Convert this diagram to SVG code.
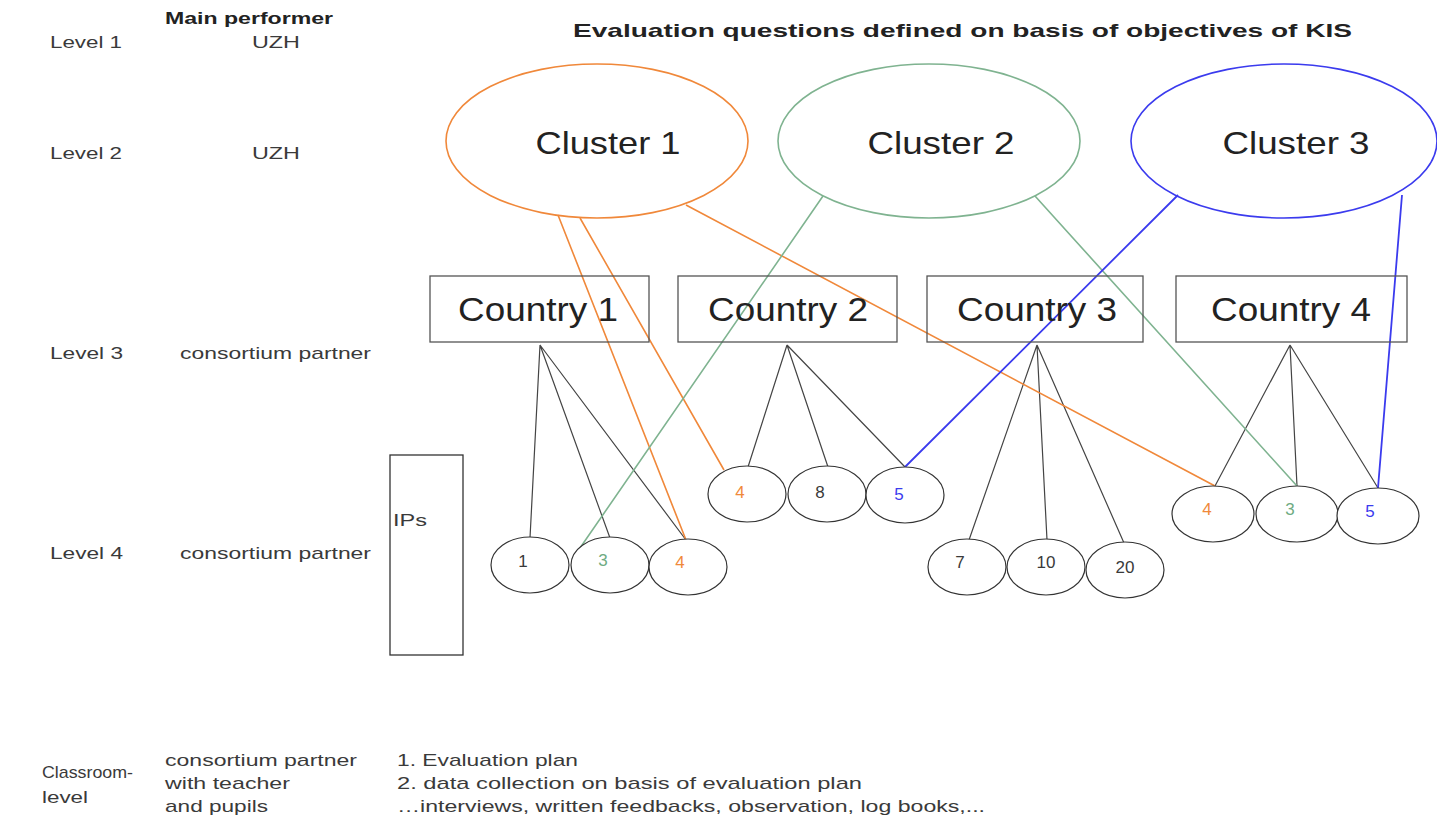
<svg xmlns="http://www.w3.org/2000/svg" width="1437" height="820" viewBox="0 0 1437 820">
<style>
text{font-family:"Liberation Sans",Arial,sans-serif;fill:#3a3a3a}
.lbl{font-size:17px}
.b{font-weight:bold;fill:#222}
.num{font-size:17px;text-anchor:middle}
.box{fill:#fff;stroke:#555;stroke-width:1.3}
.ip{fill:#fff;stroke:#333;stroke-width:1.3}
.cbig{font-size:34px;fill:#222;text-anchor:middle}
.cl{font-size:32px;fill:#222;text-anchor:middle}
.ell{fill:none;stroke-width:1.6}
.circ{fill:#fff;stroke:#333;stroke-width:1.2}
.k{stroke:#444;stroke-width:1.2;fill:none}
.o{stroke:#f0883a;stroke-width:1.6;fill:none}
.g{stroke:#7fb390;stroke-width:1.6;fill:none}
.bl{stroke:#3b3bee;stroke-width:1.8;fill:none}
.to{fill:#f0883a}.tg{fill:#6fab82}.tb{fill:#3b3bee}
</style>

<g id="labels">
<text class="lbl b" x="165" y="24" textLength="168" lengthAdjust="spacingAndGlyphs">Main performer</text>
<text class="lbl" x="50" y="48" textLength="72" lengthAdjust="spacingAndGlyphs">Level 1</text>
<text class="lbl" x="252" y="48" textLength="48" lengthAdjust="spacingAndGlyphs">UZH</text>
<text class="lbl" x="50" y="159" textLength="72" lengthAdjust="spacingAndGlyphs">Level 2</text>
<text class="lbl" x="252" y="159" textLength="48" lengthAdjust="spacingAndGlyphs">UZH</text>
<text class="lbl" x="50" y="359" textLength="73" lengthAdjust="spacingAndGlyphs">Level 3</text>
<text class="lbl" x="180" y="359" textLength="191" lengthAdjust="spacingAndGlyphs">consortium partner</text>
<text class="lbl" x="50" y="559" textLength="73" lengthAdjust="spacingAndGlyphs">Level 4</text>
<text class="lbl" x="180" y="559" textLength="191" lengthAdjust="spacingAndGlyphs">consortium partner</text>
<text class="lbl" x="42" y="778" textLength="91" lengthAdjust="spacingAndGlyphs">Classroom-</text>
<text class="lbl" x="42" y="803" textLength="46" lengthAdjust="spacingAndGlyphs">level</text>
<text class="lbl" x="165" y="766" textLength="192" lengthAdjust="spacingAndGlyphs">consortium partner</text>
<text class="lbl" x="165" y="789" textLength="125" lengthAdjust="spacingAndGlyphs">with teacher</text>
<text class="lbl" x="165" y="812" textLength="103" lengthAdjust="spacingAndGlyphs">and pupils</text>
<text class="lbl" x="397" y="766" textLength="181" lengthAdjust="spacingAndGlyphs">1. Evaluation plan</text>
<text class="lbl" x="397" y="789" textLength="465" lengthAdjust="spacingAndGlyphs">2. data collection on basis of evaluation plan</text>
<text class="lbl" x="397" y="812" textLength="588" lengthAdjust="spacingAndGlyphs">…interviews, written feedbacks, observation, log books,...</text>
<text class="b" x="573" y="37" font-size="19" textLength="779" lengthAdjust="spacingAndGlyphs">Evaluation questions defined on basis of objectives of KIS</text>
</g>

<g id="ips">
<rect class="ip" x="390" y="455" width="73" height="200"/>
<text class="lbl" x="393" y="526" textLength="34" lengthAdjust="spacingAndGlyphs">IPs</text>
</g>

<g id="cluster1">
<ellipse class="ell" cx="597" cy="141" rx="151" ry="77" stroke="#f0883a"/>
<text class="cl" x="608" y="154" textLength="145" lengthAdjust="spacingAndGlyphs">Cluster 1</text>
</g>
<g id="cluster2">
<ellipse class="ell" cx="929" cy="141" rx="151" ry="77" stroke="#7fb390"/>
<text class="cl" x="941" y="154" textLength="147" lengthAdjust="spacingAndGlyphs">Cluster 2</text>
</g>
<g id="cluster3">
<ellipse class="ell" cx="1284" cy="141" rx="153" ry="77" stroke="#3b3bee"/>
<text class="cl" x="1296" y="154" textLength="147" lengthAdjust="spacingAndGlyphs">Cluster 3</text>
</g>

<g id="connectors">
<path class="k" d="M540 345L530 538M540 345L610 538M540 345L686 540"/>
<path class="k" d="M787 345L748 467M787 345L828 467M787 345L905 467"/>
<path class="k" d="M1037 345L969 540M1037 345L1047 540M1037 345L1124 543"/>
<path class="k" d="M1290 345L1215 486M1290 345L1297 486M1290 345L1378 488"/>
<path class="o" d="M558 215L686 540M580 218L724 470M686 205L1215 486"/>
<path class="g" d="M823 196L580 548M1035 196L1297 486"/>
<path class="bl" d="M1178 195L905 467M1402 195L1378 488"/>
</g>

<g id="country1"><rect class="box" x="430" y="276" width="219" height="66" fill-opacity="0"/><text class="cbig" x="538" y="321" textLength="160" lengthAdjust="spacingAndGlyphs">Country 1</text></g>
<g id="country2"><rect class="box" x="678" y="276" width="219" height="66" fill-opacity="0"/><text class="cbig" x="788" y="321" textLength="160" lengthAdjust="spacingAndGlyphs">Country 2</text></g>
<g id="country3"><rect class="box" x="927" y="276" width="216" height="66" fill-opacity="0"/><text class="cbig" x="1037" y="321" textLength="160" lengthAdjust="spacingAndGlyphs">Country 3</text></g>
<g id="country4"><rect class="box" x="1176" y="276" width="231" height="66" fill-opacity="0"/><text class="cbig" x="1291" y="321" textLength="160" lengthAdjust="spacingAndGlyphs">Country 4</text></g>

<g id="c1-ip1"><ellipse class="circ" cx="530" cy="565" rx="39" ry="28"/><text class="num" x="523" y="567">1</text></g>
<g id="c1-ip3"><ellipse class="circ" cx="610" cy="565" rx="39" ry="28"/><text class="num tg" x="603" y="566">3</text></g>
<g id="c1-ip4"><ellipse class="circ" cx="688" cy="567" rx="39" ry="28"/><text class="num to" x="680" y="568">4</text></g>

<g id="c2-ip4"><ellipse class="circ" cx="747" cy="494" rx="39" ry="28"/><text class="num to" x="740" y="498">4</text></g>
<g id="c2-ip8"><ellipse class="circ" cx="827" cy="494" rx="39" ry="28"/><text class="num" x="820" y="498">8</text></g>
<g id="c2-ip5"><ellipse class="circ" cx="905" cy="495" rx="39" ry="28" stroke="#3b3bee"/><text class="num tb" x="899" y="500">5</text></g>

<g id="c3-ip7"><ellipse class="circ" cx="967" cy="567" rx="39" ry="28"/><text class="num" x="960" y="568">7</text></g>
<g id="c3-ip10"><ellipse class="circ" cx="1046" cy="567" rx="39" ry="28"/><text class="num" x="1046" y="568">10</text></g>
<g id="c3-ip20"><ellipse class="circ" cx="1125" cy="570" rx="39" ry="28"/><text class="num" x="1125" y="573">20</text></g>

<g id="c4-ip4"><ellipse class="circ" cx="1213" cy="514" rx="41" ry="28"/><text class="num to" x="1207" y="515">4</text></g>
<g id="c4-ip3"><ellipse class="circ" cx="1297" cy="514" rx="41" ry="28"/><text class="num tg" x="1290" y="515">3</text></g>
<g id="c4-ip5"><ellipse class="circ" cx="1378" cy="516" rx="41" ry="28" stroke="#3b3bee"/><text class="num tb" x="1370" y="517">5</text></g>
</svg>
